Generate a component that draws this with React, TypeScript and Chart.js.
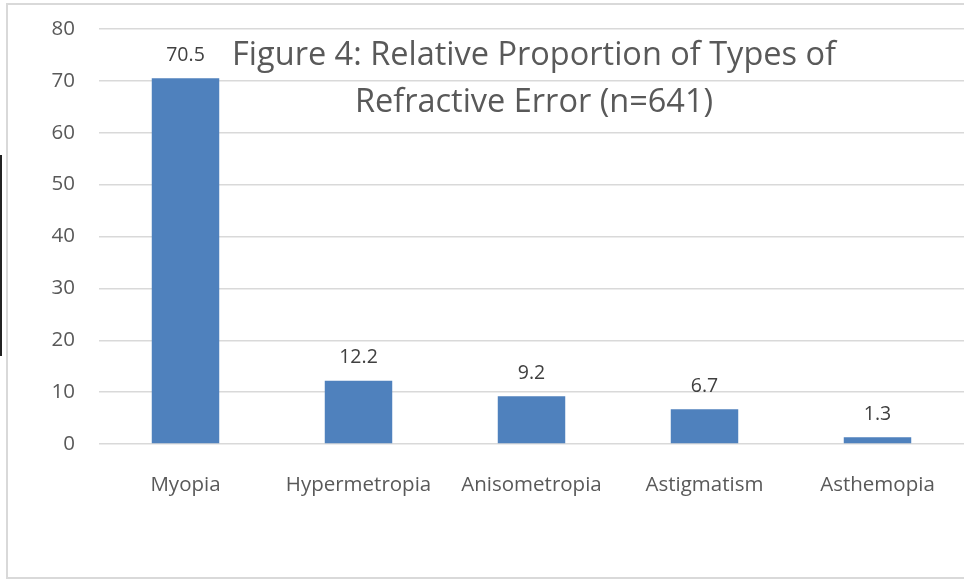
import React, { useEffect, useRef } from "react";
import { Chart, registerables } from "chart.js";

Chart.register(...registerables);

const categories = ["Myopia", "Hypermetropia", "Anisometropia", "Astigmatism", "Asthemopia"];
const values = [70.5, 12.2, 9.2, 6.7, 1.3];
const yTicks = [0, 10, 20, 30, 40, 50, 60, 70, 80];
const titleLines = ["Figure 4: Relative Proportion of Types of", "Refractive Error (n=641)"];

const FONT = "'Open Sans', sans-serif";

const overlayPlugin = {
  id: "overlay",
  afterDraw(chart: any) {
    const ctx = chart.ctx;
    ctx.save();
    ctx.strokeStyle = "#d9d9d9";
    ctx.lineWidth = 2;
    ctx.strokeRect(7, 4, 970, 574);
    ctx.strokeStyle = "#222";
    ctx.lineWidth = 2;
    ctx.beginPath();
    ctx.moveTo(1, 155);
    ctx.lineTo(1, 356);
    ctx.stroke();
    ctx.fillStyle = "#595959";
    ctx.font = `32.5px ${FONT}`;
    ctx.textAlign = "center";
    ctx.textBaseline = "middle";
    ctx.fillText(titleLines[0], 534, 56);
    ctx.fillText(titleLines[1], 534, 103);
    const meta = chart.getDatasetMeta(0);
    ctx.font = `19.5px ${FONT}`;
    ctx.fillStyle = "#404040";
    meta.data.forEach((bar: any, i: number) => {
      ctx.fillText(String(values[i]), bar.x, bar.y - 23);
    });
    ctx.restore();
  },
};

export default function App() {
  const ref = useRef<HTMLCanvasElement>(null);
  useEffect(() => {
    if (!ref.current) return;
    const chart = new Chart(ref.current, {
      type: "bar",
      data: {
        labels: categories,
        datasets: [
          {
            data: values,
            backgroundColor: "#4f81bd",
            barPercentage: 0.39,
            categoryPercentage: 1,
          },
        ],
      },
      options: {
        animation: false,
        responsive: false,
        maintainAspectRatio: false,
        layout: { padding: { top: 29, left: 0, right: 0, bottom: 0 } },
        plugins: {
          legend: { display: false },
          title: { display: false },
          tooltip: { enabled: false },
        },
        scales: {
          x: {
            grid: { display: false, drawTicks: false },
            border: { display: false },
            ticks: { color: "#595959", font: { size: 20.5, family: FONT }, padding: 29 },
            afterFit(scale: any) {
              scale.height = 137;
              scale.paddingLeft = 0;
              scale.paddingRight = 0;
            },
          },
          y: {
            min: 0,
            max: 80,
            afterBuildTicks(scale: any) {
              scale.ticks = yTicks.map((v) => ({ value: v }));
            },
            grid: { color: "#d9d9d9", lineWidth: 1.5, drawTicks: false },
            border: { display: false },
            ticks: { color: "#595959", font: { size: 20.5, family: FONT }, padding: 24 },
            afterFit(scale: any) {
              scale.width = 99;
              scale.paddingTop = 0;
              scale.paddingBottom = 0;
            },
          },
        },
      },
      plugins: [overlayPlugin],
    });
    return () => chart.destroy();
  }, []);
  return (
    <div style={{ position: "fixed", left: 0, top: 0, width: 964, height: 581, background: "#fff" }}>
      <canvas ref={ref} width={964} height={581} style={{ width: 964, height: 581 }} />
    </div>
  );
}
